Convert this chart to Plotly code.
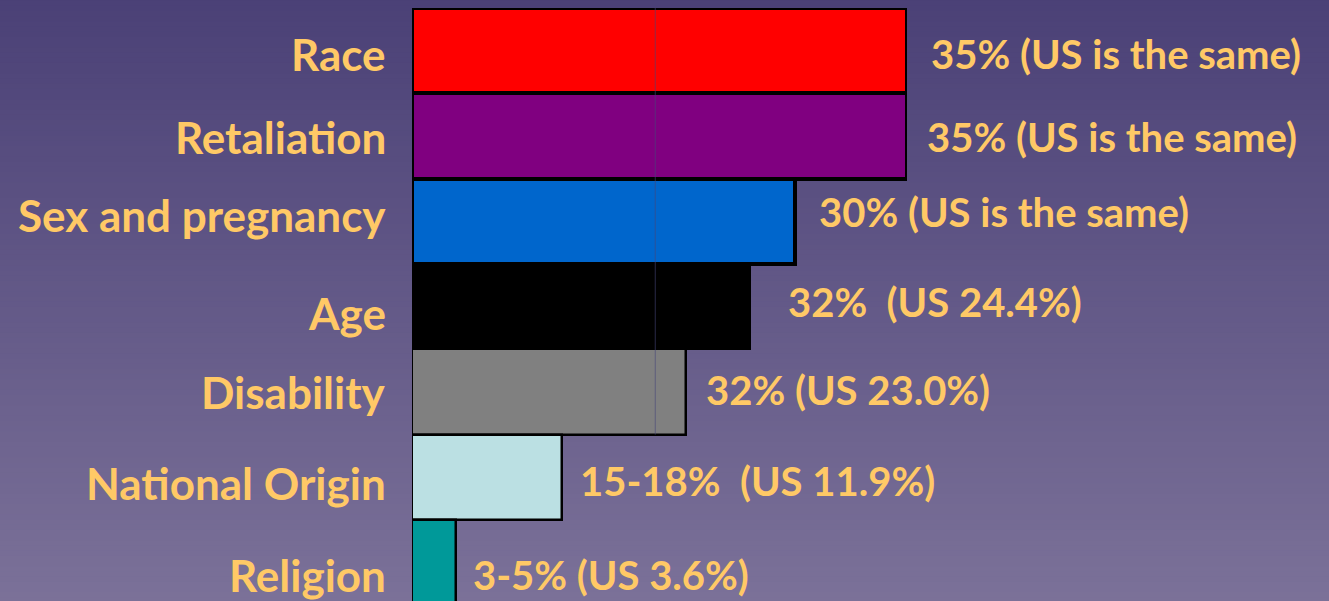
import plotly.graph_objects as go

# ---- data ----
categories = ["Race", "Retaliation", "Sex and pregnancy", "Age ", "Disability",
              "National Origin", "Religion"]
bar_values = [35, 35, 27.1, 23.9, 19.4, 10.6, 3.1]
value_labels = ["35% (US is the same)", "35% (US is the same)", "30% (US is the same)",
                "32%  (US 24.4%)", "32% (US 23.0%)", "15-18%  (US 11.9%)", "3-5% (US 3.6%)"]
bar_colors = ["#FF0000", "#800080", "#0066CC", "#000000", "#808080", "#BBE0E3", "#009999"]

# ---- style ----
W, H = 1329, 601
TXT = "#FFC966"
FONT = "Lato"
FS_LABEL = 44
FS_VALUE = 40
outline_w = [4, 4, 4, 2.5, 2.5, 2.5, 2.5]
label_yshift = [-3, -1, 6, -6, 0, -6, -12]
value_yshift = [-3, -1, 9, 5, 2, -4, -12]
value_xshift = [22, 18, 22, 36, 18, 16, 15]

fig = go.Figure(go.Bar(
    y=categories, x=bar_values, orientation="h",
    marker=dict(color=bar_colors, line=dict(color="#000000", width=outline_w)),
    width=1.0, hoverinfo="skip",
))

# background gradient
top = (74, 64, 118)
bot = (124, 114, 153)
n = 120
shapes = []
y_lo, y_hi = -0.02, 1.03
for i in range(n):
    t = i / (n - 1)
    c = tuple(round(bot[k] + (top[k] - bot[k]) * t) for k in range(3))
    y0 = y_lo + (y_hi - y_lo) * i / n
    y1 = y_lo + (y_hi - y_lo) * (i + 1) / n + 0.002
    shapes.append(dict(type="rect", xref="paper", yref="paper", x0=-0.9, x1=1.9,
                       y0=y0, y1=y1, fillcolor="rgb(%d,%d,%d)" % c,
                       line=dict(width=0), layer="below"))
# faint gridline over the top bars
shapes.append(dict(type="line", xref="x", yref="y", x0=17.2, x1=17.2, y0=-0.5, y1=4.5,
                   line=dict(color="rgba(70,70,120,0.6)", width=1), layer="above"))

annotations = []
for i, cat in enumerate(categories):
    annotations.append(dict(xref="paper", yref="y", x=0, y=cat, xanchor="right",
                            xshift=-24, yshift=label_yshift[i], text="<b>%s</b>" % cat.strip(),
                            showarrow=False, font=dict(family=FONT, size=FS_LABEL, color=TXT)))
    annotations.append(dict(xref="x", yref="y", x=bar_values[i], y=cat, xanchor="left",
                            xshift=value_xshift[i], yshift=value_yshift[i],
                            text="<b>%s</b>" % value_labels[i],
                            showarrow=False, font=dict(family=FONT, size=FS_VALUE, color=TXT)))

fig.update_layout(
    width=W, height=H,
    margin=dict(l=412, r=W - 907, t=8, b=0, pad=0),
    paper_bgcolor="rgb(98,88,135)", plot_bgcolor="rgba(0,0,0,0)",
    shapes=shapes, annotations=annotations, showlegend=False, bargap=0,
    xaxis=dict(range=[0, 35], showgrid=False, zeroline=False, showticklabels=False,
               showline=False, fixedrange=True),
    yaxis=dict(range=[6.45, -0.5], showgrid=False, zeroline=False, showticklabels=False,
               showline=False, fixedrange=True),
)

fig.write_html("out.html", config={"displayModeBar": False},
               post_script="document.body.style.margin='0px';document.body.style.overflow='hidden';")
